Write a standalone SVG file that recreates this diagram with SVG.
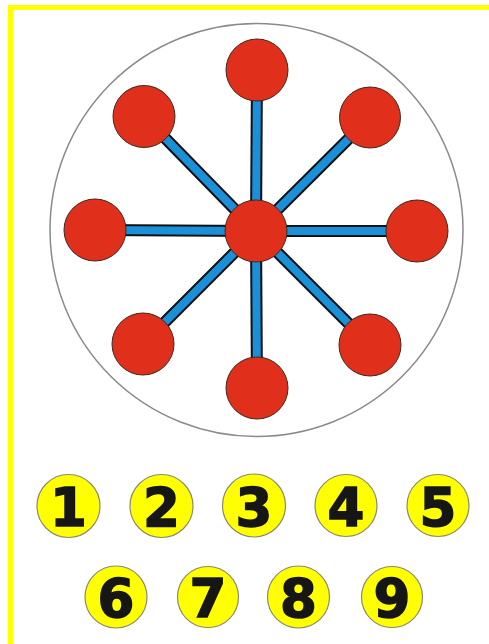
<svg xmlns="http://www.w3.org/2000/svg" width="489" height="644" viewBox="0 0 489 644">
<style>
.ring{fill:#fff;stroke:#8a8a8a;stroke-width:1.5}
.red{fill:#e0301c;stroke:#3a2a20;stroke-width:1}
.edge-o{stroke:#111;stroke-width:12;stroke-linecap:butt}
.edge-i{stroke:#1a90d8;stroke-width:8;stroke-linecap:butt}
.yel{fill:#ffff00;stroke:#8a8a70;stroke-width:1.2}
.num{font-family:"DejaVu Sans",sans-serif;font-weight:bold;font-size:53px;fill:#161616;stroke:#161616;stroke-width:1.5;text-anchor:middle}
</style>
<rect x="0" y="0" width="489" height="644" fill="#fff"/>
<rect x="8" y="5" width="481" height="5" fill="#ffff00"/>
<rect x="8" y="5" width="5" height="639" fill="#ffff00"/>
<circle class="ring" cx="256.5" cy="230" r="206.5"/>
<g id="connectors">
<g class="edge-o">
<line x1="256" y1="231" x2="257" y2="70"/>
<line x1="256" y1="231" x2="144" y2="116.5"/>
<line x1="256" y1="231" x2="370" y2="117.5"/>
<line x1="256" y1="231" x2="95" y2="230"/>
<line x1="256" y1="231" x2="417" y2="231"/>
<line x1="256" y1="231" x2="143" y2="344"/>
<line x1="256" y1="231" x2="370" y2="345"/>
<line x1="256" y1="231" x2="257" y2="388"/>
</g>
<g class="edge-i">
<line x1="256" y1="231" x2="257" y2="70"/>
<line x1="256" y1="231" x2="144" y2="116.5"/>
<line x1="256" y1="231" x2="370" y2="117.5"/>
<line x1="256" y1="231" x2="95" y2="230"/>
<line x1="256" y1="231" x2="417" y2="231"/>
<line x1="256" y1="231" x2="143" y2="344"/>
<line x1="256" y1="231" x2="370" y2="345"/>
<line x1="256" y1="231" x2="257" y2="388"/>
</g>
</g>
<g id="node-center"><circle class="red" cx="256" cy="231" r="31"/></g>
<g id="node-n"><circle class="red" cx="257" cy="70" r="31"/></g>
<g id="node-nw"><circle class="red" cx="144" cy="116.5" r="31"/></g>
<g id="node-ne"><circle class="red" cx="370" cy="117.5" r="30.5"/></g>
<g id="node-w"><circle class="red" cx="95" cy="230" r="31"/></g>
<g id="node-e"><circle class="red" cx="417" cy="231" r="31"/></g>
<g id="node-sw"><circle class="red" cx="143" cy="344" r="31"/></g>
<g id="node-se"><circle class="red" cx="370" cy="345" r="31"/></g>
<g id="node-s"><circle class="red" cx="257" cy="388" r="31"/></g>
<g id="num-1"><circle class="yel" cx="68.5" cy="506" r="31.5"/><text class="num" x="68.5" y="526">1</text></g>
<g id="num-2"><circle class="yel" cx="161.5" cy="506" r="31.5"/><text class="num" x="161.5" y="526">2</text></g>
<g id="num-3"><circle class="yel" cx="254" cy="505.5" r="31.5"/><text class="num" x="254" y="526">3</text></g>
<g id="num-4"><circle class="yel" cx="346" cy="505.5" r="31"/><text class="num" x="346" y="526">4</text></g>
<g id="num-5"><circle class="yel" cx="438" cy="505.5" r="31"/><text class="num" x="438" y="526">5</text></g>
<g id="num-6"><circle class="yel" cx="116" cy="597" r="31"/><text class="num" x="116" y="617">6</text></g>
<g id="num-7"><circle class="yel" cx="208" cy="597" r="30.5"/><text class="num" x="208" y="617">7</text></g>
<g id="num-8"><circle class="yel" cx="298.5" cy="597" r="31"/><text class="num" x="298.5" y="617">8</text></g>
<g id="num-9"><circle class="yel" cx="392" cy="597" r="30.5"/><text class="num" x="392" y="617">9</text></g>
</svg>
